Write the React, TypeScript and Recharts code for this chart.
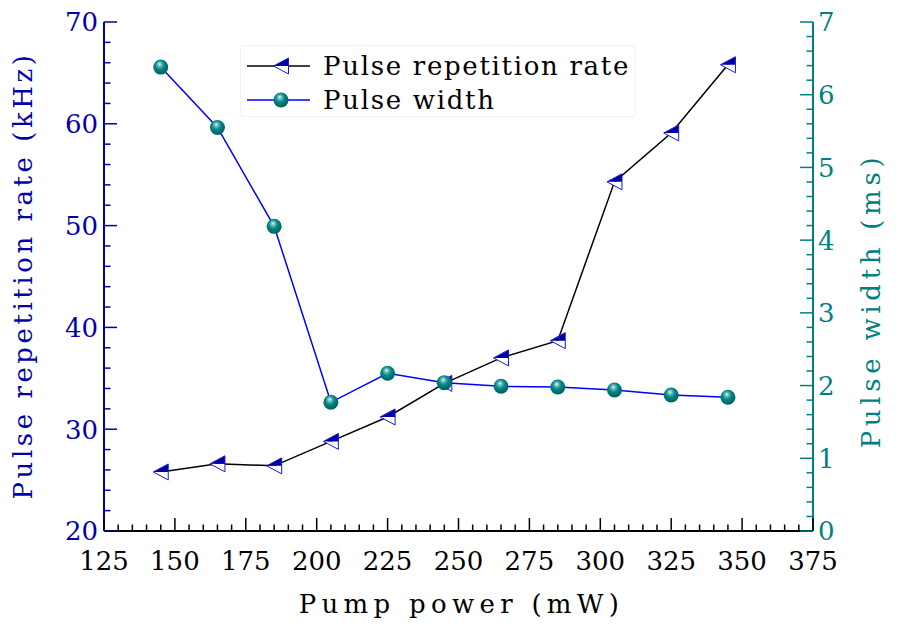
import React from 'react';
import { ComposedChart, Line, XAxis, YAxis, Legend, Label } from 'recharts';

// ---------- data ----------
const pumpPower = [145, 165, 185, 205, 225, 245, 265, 285, 305, 325, 345];
const repetitionRate = [25.8, 26.6, 26.4, 28.8, 31.2, 34.5, 37.0, 38.7, 54.3, 59.1, 65.8];
const pulseWidth = [6.38, 5.55, 4.19, 1.77, 2.17, 2.04, 1.99, 1.98, 1.94, 1.87, 1.84];

const xMajorTicks = [125, 150, 175, 200, 225, 250, 275, 300, 325, 350, 375];
const leftMajorTicks = [20, 30, 40, 50, 60, 70];
const rightMajorTicks = [0, 1, 2, 3, 4, 5, 6, 7];

const seriesNames = ['Pulse repetition rate', 'Pulse width'];
const axisTitles = { x: 'Pump power (mW)', left: 'Pulse repetition rate (kHz)', right: 'Pulse width (ms)' };

// minor ticks: 4 subdivisions between majors
const withMinors = (majors: number[], sub: number) => {
  const out: number[] = [];
  for (let i = 0; i < majors.length - 1; i++) {
    const a = majors[i];
    const b = majors[i + 1];
    for (let k = 0; k < sub; k++) out.push(Math.round((a + ((b - a) * k) / sub) * 1000) / 1000);
  }
  out.push(majors[majors.length - 1]);
  return out;
};
const xTicks = withMinors(xMajorTicks, 5);
const leftTicks = withMinors(leftMajorTicks, 5);
const rightTicks = withMinors(rightMajorTicks, 5);

const data = pumpPower.map((p, i) => ({ power: p, rate: repetitionRate[i], width: pulseWidth[i] }));

// ---------- styles ----------
const FONT = 'DejaVu Serif';
const FS = 26;
const BLUE_AXIS = '#0000aa';
const TEAL = '#008080';
const MAJOR = 13;
const MINOR = 6.5;

const isMajor = (v: number, majors: number[]) => majors.some((m) => Math.abs(m - v) < 1e-6);

// ---------- ticks ----------
const BottomTick = (props: any) => {
  const { x, y, payload } = props;
  const v = payload.value;
  const major = isMajor(v, xMajorTicks);
  return (
    <g>
      <line x1={x} x2={x} y1={y} y2={y - (major ? MAJOR : MINOR)} stroke="#000" strokeWidth={1.5} />
      {major && (
        <text x={x} y={y + 39} textAnchor="middle" fontFamily={FONT} fontSize={FS} fill="#000">
          {v}
        </text>
      )}
    </g>
  );
};

const TopTick = (props: any) => {
  const { x, y, payload } = props;
  const major = isMajor(payload.value, xMajorTicks);
  return <line x1={x} x2={x} y1={y} y2={y + (major ? MAJOR : MINOR)} stroke="#000" strokeWidth={1.5} />;
};

const LeftTick = (props: any) => {
  const { x, y, payload } = props;
  const v = payload.value;
  const major = isMajor(v, leftMajorTicks);
  return (
    <g>
      <line x1={x} x2={x + (major ? MAJOR : MINOR)} y1={y} y2={y} stroke={BLUE_AXIS} strokeWidth={1.5} />
      {major && (
        <text x={x - 6} y={y} dy="0.36em" textAnchor="end" fontFamily={FONT} fontSize={FS} fill={BLUE_AXIS}>
          {v}
        </text>
      )}
    </g>
  );
};

const RightTick = (props: any) => {
  const { x, y, payload } = props;
  const v = payload.value;
  const major = isMajor(v, rightMajorTicks);
  return (
    <g>
      <line x1={x} x2={x - (major ? MAJOR : MINOR)} y1={y} y2={y} stroke={TEAL} strokeWidth={1.5} />
      {major && (
        <text x={x + 5} y={y} dy="0.36em" textAnchor="start" fontFamily={FONT} fontSize={FS} fill={TEAL}>
          {v}
        </text>
      )}
    </g>
  );
};

// ---------- markers ----------
const TriMarker = ({ cx, cy }: { cx: number; cy: number }) => {
  const w = 7.5;
  const h = 8;
  return (
    <g>
      <polygon points={`${cx - w},${cy} ${cx + w},${cy} ${cx + w},${cy + h}`} fill="#ffffff" />
      <polygon points={`${cx - w},${cy} ${cx + w},${cy - h} ${cx + w},${cy}`} fill="#0000aa" />
      <polygon points={`${cx - w},${cy} ${cx + w},${cy - h} ${cx + w},${cy + h}`} fill="none" stroke="#1a1acc" strokeWidth={1} />
    </g>
  );
};

const Sphere = ({ cx, cy, grad }: { cx: number; cy: number; grad: string }) => (
  <circle cx={cx} cy={cy} r={7.5} fill={`url(#${grad})`} />
);

const GradDef = ({ id }: { id: string }) => (
  <radialGradient id={id} cx="0.45" cy="0.4" r="0.6" fx="0.42" fy="0.3">
    <stop offset="0" stopColor="#ffffff" />
    <stop offset="0.18" stopColor="#7fc0c0" />
    <stop offset="0.5" stopColor="#008a8a" />
    <stop offset="1" stopColor="#005c5c" />
  </radialGradient>
);

// ---------- legend ----------
const LegendBox = () => (
  <div
    style={{
      width: 396,
      height: 72,
      boxSizing: 'border-box',
      border: '1px solid #f3f3f3',
      borderRadius: 3,
      background: '#ffffff',
    }}
  >
    <svg width={394} height={70} style={{ display: 'block' }}>
      <defs>
        <GradDef id="sphereGradLegend" />
      </defs>
      <line x1={6} x2={69} y1={20} y2={20} stroke="#000" strokeWidth={1.5} />
      <TriMarker cx={40} cy={20} />
      <text x={82} y={29} fontFamily={FONT} fontSize={FS} letterSpacing={1.7} fill="#000">
        {seriesNames[0]}
      </text>
      <line x1={6} x2={69} y1={54} y2={54} stroke="#0000ff" strokeWidth={1.5} />
      <Sphere cx={40} cy={54} grad="sphereGradLegend" />
      <text x={82} y={63} fontFamily={FONT} fontSize={FS} letterSpacing={1.7} fill="#000">
        {seriesNames[1]}
      </text>
    </svg>
  </div>
);

export default function App() {
  return (
    <div style={{ position: 'absolute', left: 0, top: 0, width: 901, height: 630, background: '#fff' }}>
      <ComposedChart width={901} height={630} data={data} margin={{ top: 22, right: 0, bottom: 0, left: 0 }}>
        <defs>
          <GradDef id="sphereGrad" />
        </defs>
        <XAxis
          dataKey="power"
          type="number"
          domain={[125, 375]}
          allowDataOverflow
          ticks={xTicks}
          interval={0}
          tickSize={0}
          tickMargin={0}
          tickLine={false}
          tick={BottomTick}
          height={99}
          axisLine={{ stroke: '#000', strokeWidth: 2 }}
        >
          <Label
            content={(p: any) => {
              const vb = p.viewBox;
              return (
                <text x={vb.x + vb.width / 2 + 3} y={vb.y + 82} textAnchor="middle" fontFamily={FONT} fontSize={FS} letterSpacing={5.3} fill="#000">
                  {axisTitles.x}
                </text>
              );
            }}
          />
        </XAxis>
        <XAxis
          xAxisId="top"
          orientation="top"
          type="number"
          domain={[125, 375]}
          allowDataOverflow
          ticks={xTicks}
          interval={0}
          tickSize={0}
          tickMargin={0}
          tickLine={false}
          tick={TopTick}
          height={0}
          axisLine={{ stroke: '#000', strokeWidth: 2 }}
        />
        <YAxis
          yAxisId="left"
          type="number"
          domain={[20, 70]}
          allowDataOverflow
          ticks={leftTicks}
          interval={0}
          tickSize={0}
          tickMargin={0}
          tickLine={false}
          tick={LeftTick}
          width={104}
          axisLine={{ stroke: BLUE_AXIS, strokeWidth: 2 }}
        >
          <Label
            content={(p: any) => {
              const vb = p.viewBox;
              const x = vb.x + 32;
              const y = vb.y + vb.height / 2 - 1;
              return (
                <text x={x} y={y} transform={`rotate(-90, ${x}, ${y})`} textAnchor="middle" fontFamily={FONT} fontSize={FS} letterSpacing={3.55} fill={BLUE_AXIS}>
                  {axisTitles.left}
                </text>
              );
            }}
          />
        </YAxis>
        <YAxis
          yAxisId="right"
          orientation="right"
          type="number"
          domain={[0, 7]}
          allowDataOverflow
          ticks={rightTicks}
          interval={0}
          tickSize={0}
          tickMargin={0}
          tickLine={false}
          tick={RightTick}
          width={88}
          axisLine={{ stroke: TEAL, strokeWidth: 2 }}
        >
          <Label
            content={(p: any) => {
              const vb = p.viewBox;
              const x = vb.x + 67;
              const y = vb.y + vb.height / 2 + 24;
              return (
                <text x={x} y={y} transform={`rotate(-90, ${x}, ${y})`} textAnchor="middle" fontFamily={FONT} fontSize={FS} letterSpacing={4.7} fill={TEAL}>
                  {axisTitles.right}
                </text>
              );
            }}
          />
        </YAxis>
        <Legend
          layout="vertical"
          verticalAlign="middle"
          align="center"
          wrapperStyle={{ left: 240, top: 45, width: 396, height: 72 }}
          content={() => <LegendBox />}
        />
        <Line
          yAxisId="left"
          type="linear"
          dataKey="rate"
          name={seriesNames[0]}
          stroke="#000"
          strokeWidth={1.5}
          dot={(p: any) => <TriMarker key={`tri-${p.index}`} cx={p.cx} cy={p.cy} />}
          activeDot={false}
          isAnimationActive={false}
        />
        <Line
          yAxisId="right"
          type="linear"
          dataKey="width"
          name={seriesNames[1]}
          stroke="#0000ff"
          strokeWidth={1.5}
          dot={(p: any) => <Sphere key={`sph-${p.index}`} cx={p.cx} cy={p.cy} grad="sphereGrad" />}
          activeDot={false}
          isAnimationActive={false}
        />
      </ComposedChart>
    </div>
  );
}
